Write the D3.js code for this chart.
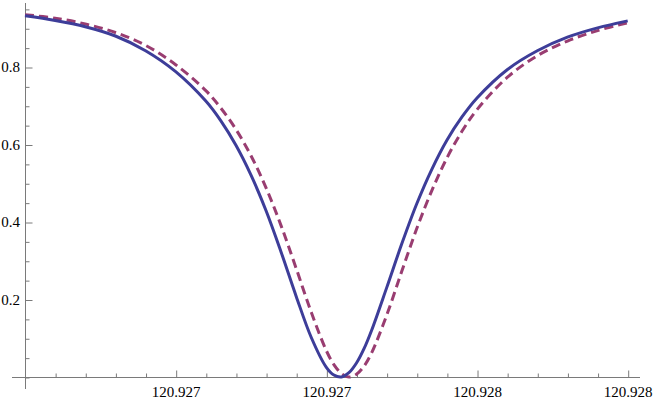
<!DOCTYPE html>
<html>
<head>
<meta charset="utf-8">
<script src="https://cdn.jsdelivr.net/npm/d3@7"></script>
<style>
  html, body { margin: 0; padding: 0; background: #fff; }
  svg { display: block; }
</style>
</head>
<body>
<svg id="chart" width="654" height="400"></svg>
<script>
// ---- data ----
const xValues = [
  120.92700, 120.92705, 120.92710, 120.92715, 120.92720, 120.92725, 120.92730,
  120.927325, 120.92735, 120.927375, 120.92740, 120.927425, 120.92745, 120.927475,
  120.92750, 120.9275125, 120.927525, 120.9275375, 120.92755, 120.9275625, 120.927575,
  120.92760, 120.927625, 120.92765, 120.927675, 120.92770, 120.927725, 120.92775,
  120.92780, 120.92785, 120.92790, 120.92795, 120.92800
];
const solidValues = [
  0.932, 0.920, 0.904, 0.880, 0.842, 0.788, 0.712,
  0.661, 0.598, 0.521, 0.429, 0.322, 0.208, 0.102,
  0.025, 0.005, 0.000, 0.011, 0.036, 0.073, 0.120,
  0.230, 0.343, 0.447, 0.536, 0.611, 0.671, 0.720,
  0.793, 0.842, 0.877, 0.901, 0.919
];
const dashedValues = [
  0.935, 0.926, 0.911, 0.889, 0.856, 0.806, 0.739,
  0.694, 0.639, 0.571, 0.488, 0.390, 0.280, 0.167,
  0.068, 0.032, 0.009, 0.000, 0.007, 0.028, 0.062,
  0.159, 0.272, 0.383, 0.481, 0.565, 0.634, 0.690,
  0.773, 0.829, 0.867, 0.894, 0.914
];
const xTickValues = [120.92725, 120.92750, 120.92775, 120.92800];
const xTickLabels = ["120.927", "120.927", "120.928", "120.928"];
const yTickValues = [0.2, 0.4, 0.6, 0.8];
const yTickLabels = ["0.2", "0.4", "0.6", "0.8"];

// ---- layout ----
const svg = d3.select("#chart");
const x = d3.scaleLinear().domain([120.927, 120.928]).range([25, 627.7]);
const y = d3.scaleLinear().domain([0, 1]).range([377, -10.5]);
const axisColor = "#7a7a7a";

// axis lines
svg.append("line").attr("x1", 12).attr("x2", 640).attr("y1", 377.5).attr("y2", 377.5)
  .attr("stroke", axisColor).attr("stroke-width", 1);
svg.append("line").attr("x1", 25.5).attr("x2", 25.5).attr("y1", 3).attr("y2", 389)
  .attr("stroke", axisColor).attr("stroke-width", 1);

// ticks (no labels from the axis generator)
const xMinor = d3.range(1, 21).map(i => 120.927 + i * 0.00005)
  .filter(v => !xTickValues.some(t => Math.abs(t - v) < 1e-9));
const yMinor = d3.range(0, 20).map(i => i * 0.05)
  .filter(v => !yTickValues.some(t => Math.abs(t - v) < 1e-9));

function ticksOnly(g, axis) {
  g.call(axis.tickFormat(""));
  g.select(".domain").remove();
  g.selectAll(".tick text").remove();
  g.selectAll(".tick line").attr("stroke", axisColor);
}
ticksOnly(svg.append("g").attr("transform", "translate(0.5,377.5)"),
  d3.axisBottom(x).tickValues(xMinor).tickSize(-4));
ticksOnly(svg.append("g").attr("transform", "translate(0.5,377.5)"),
  d3.axisBottom(x).tickValues(xTickValues).tickSize(-7));
ticksOnly(svg.append("g").attr("transform", "translate(25.5,0.5)"),
  d3.axisLeft(y).tickValues(yMinor).tickSize(-4));
ticksOnly(svg.append("g").attr("transform", "translate(25.5,0.5)"),
  d3.axisLeft(y).tickValues(yTickValues).tickSize(-7));

// tick labels
svg.append("g").selectAll("text")
  .data(xTickValues)
  .join("text")
  .attr("x", d => x(d) + 0.5)
  .attr("y", 397)
  .attr("text-anchor", "middle")
  .attr("font-family", "Liberation Serif")
  .attr("font-size", 15)
  .attr("fill", "#000")
  .text((d, i) => xTickLabels[i]);

svg.append("g").selectAll("text")
  .data(yTickValues)
  .join("text")
  .attr("x", 20)
  .attr("y", d => y(d) + 5.3)
  .attr("text-anchor", "end")
  .attr("font-family", "Liberation Serif")
  .attr("font-size", 15)
  .attr("fill", "#000")
  .text((d, i) => yTickLabels[i]);

// curves
const line = d3.line()
  .x(d => x(d[0]))
  .y(d => y(d[1]))
  .curve(d3.curveCatmullRom.alpha(0.5));

svg.append("path")
  .datum(xValues.map((v, i) => [v, dashedValues[i]]))
  .attr("d", line)
  .attr("fill", "none")
  .attr("stroke", "#993d71")
  .attr("stroke-width", 3)
  .attr("stroke-dasharray", "9,5");

svg.append("path")
  .datum(xValues.map((v, i) => [v, solidValues[i]]))
  .attr("d", line)
  .attr("fill", "none")
  .attr("stroke", "#3d3d99")
  .attr("stroke-width", 3);
</script>
</body>
</html>
